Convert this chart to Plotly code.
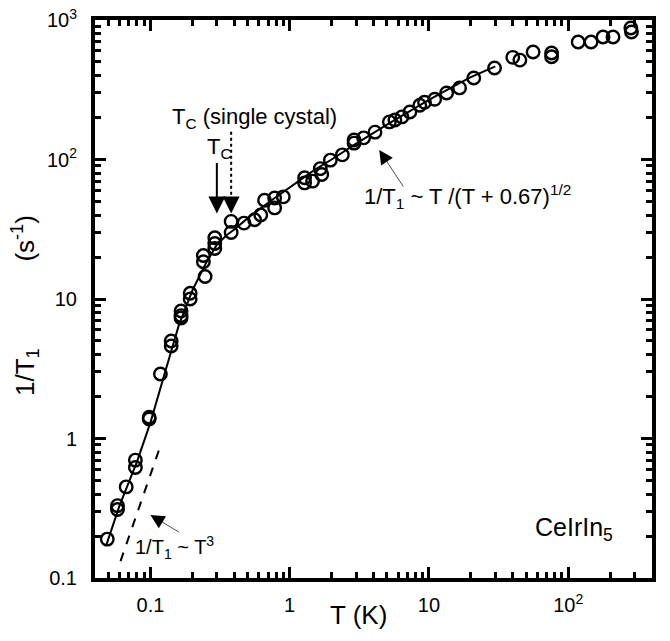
import plotly.graph_objects as go
import math

# measured 1/T1 data (T in K, 1/T1 in s^-1)
T_data = [0.049, 0.058, 0.058, 0.067, 0.078, 0.078, 0.098, 0.098, 0.118, 0.141, 0.141,
          0.166, 0.166, 0.166, 0.193, 0.193, 0.24, 0.24, 0.247, 0.29, 0.29, 0.29,
          0.38, 0.38, 0.47, 0.56, 0.62, 0.66, 0.78, 0.78, 0.9, 1.28, 1.28, 1.46,
          1.66, 1.7, 1.96, 2.39, 2.9, 2.9, 3.4, 4.1, 5.2, 5.7, 6.4, 7.3, 8.6, 9.3,
          11, 13.4, 16.6, 21, 29.6, 40, 45, 56, 76, 76, 118, 146, 178, 210, 282, 285]
R_data = [0.19, 0.31, 0.33, 0.45, 0.70, 0.62, 1.42, 1.38, 2.9, 5.0, 4.6,
          8.2, 7.6, 7.3, 11.0, 10.0, 20.5, 18.5, 14.5, 27.5, 25, 23,
          36, 30, 35, 37, 40, 51, 45, 53, 54, 74, 68, 70,
          86, 78, 99, 108, 131, 138, 143, 157, 186, 192, 202, 219, 245, 257,
          270, 300, 326, 384, 453, 540, 516, 590, 580, 545, 695, 695, 755, 755, 877, 821]

# fitted curve
T_fit = [0.048, 0.06, 0.08, 0.1, 0.13, 0.16, 0.2, 0.25, 0.3, 0.35, 0.4, 0.5, 0.7,
         1, 1.5, 2, 3, 5, 7, 10, 15, 20, 30]
R_fit = [0.17, 0.33, 0.68, 1.3, 3.2, 6.5, 11.5, 18, 24.5, 28.5, 31.5, 38, 49,
         63, 84, 100, 130, 178, 218, 268, 335, 390, 465]

# T^3 guide line
T_cube = [0.061, 0.12]
R_cube = [0.132, 0.93]

# single-crystal Tc dotted marker
T_sc = [0.38, 0.38]
R_sc = [158, 50]

x_tickvals = [0.1, 1, 10, 100]
x_ticktext = ["0.1", "1", "10", "10<sup>2</sup>"]
y_tickvals = [0.1, 1, 10, 100, 1000]
y_ticktext = ["0.1", "1", "10", "10<sup>2</sup>", "10<sup>3</sup>"]

X_MIN, X_MAX = 0.04, 400
minor_x = [k * 10 ** e for e in range(-2, 3) for k in range(2, 10)]
minor_x = [v for v in minor_x if X_MIN <= v <= X_MAX]
minor_y = [k * 10 ** e for e in range(-1, 3) for k in range(2, 10)]

FONT = "Liberation Sans, Arial, Helvetica, sans-serif"
L = math.log10

fig = go.Figure()
# fit line on the overlay axes (same ranges) so the minor-tick axes get drawn
fig.add_trace(go.Scatter(x=T_fit, y=R_fit, mode="lines", xaxis="x2", yaxis="y2",
                         line=dict(color="black", width=2), showlegend=False))
fig.add_trace(go.Scatter(x=T_cube, y=R_cube, mode="lines",
                         line=dict(color="black", width=2, dash="dash"), showlegend=False))
fig.add_trace(go.Scatter(x=T_sc, y=R_sc, mode="lines",
                         line=dict(color="black", width=2, dash="dot"), showlegend=False))
fig.add_trace(go.Scatter(x=T_data, y=R_data, mode="markers",
                         marker=dict(symbol="circle-open", size=12.5, color="black",
                                     line=dict(width=2.4, color="black")),
                         showlegend=False))

ann = []
# Tc solid arrow
ann.append(dict(x=L(0.3), y=L(41), xref="x", yref="y", text="", showarrow=True,
                ax=0, ay=-52, arrowhead=2, arrowsize=1.7, arrowwidth=2, arrowcolor="black"))
# dotted arrow head
ann.append(dict(x=L(0.38), y=L(41), xref="x", yref="y", text="", showarrow=True,
                ax=0, ay=-12, arrowhead=2, arrowsize=1.7, arrowwidth=2, arrowcolor="black"))
# formula arrow
ann.append(dict(x=L(4.4), y=L(117), xref="x", yref="y", text="", showarrow=True,
                ax=25, ay=38, arrowhead=2, arrowsize=4, arrowwidth=0.7, arrowcolor="black"))
# T^3 arrow
ann.append(dict(x=L(0.1), y=L(0.283), xref="x", yref="y", text="", showarrow=True,
                ax=30, ay=18, arrowhead=2, arrowsize=4, arrowwidth=0.7, arrowcolor="black"))

def paper(px, py):
    # page pixel -> paper fraction of the plot area (95..652, 20..578)
    return (px - 95) / 557, (578 - py) / 558

tx = [
    ("T<sub>C</sub> (single cystal)", 170, 118, "left", 22, 0),
    ("T<sub>C</sub>", 205, 148, "left", 22, 0),
    ("1/T<sub>1</sub> ~ T /(T + 0.67)<sup>1/2</sup>", 362, 196, "left", 22, 0),
    ("1/T<sub>1</sub> ~ T<sup>3</sup>", 133, 547, "left", 20, 0),
    ("CeIrIn<sub>5</sub>", 615, 529, "right", 25, 0),
    ("T (K)", 358, 615, "center", 26, 0),
    ("1/T<sub>1</sub>" + "\u00a0" * 12 + "(s<sup>-1</sup>)", 25, 306, "center", 26, -90),
]
for t, px, py, xa, fs, ang in tx:
    xp, yp = paper(px, py)
    ann.append(dict(x=xp, y=yp, xref="paper", yref="paper", text=t, showarrow=False,
                    textangle=ang, xanchor=xa, yanchor="middle",
                    font=dict(size=fs, color="black", family=FONT)))

major = dict(type="log", showgrid=False, zeroline=False, showline=True,
             linecolor="black", linewidth=4, mirror="ticks", ticks="inside",
             ticklen=11, tickwidth=3, tickcolor="black", automargin=False,
             ticklabeloverflow="allow",
             tickmode="array", tickfont=dict(size=20, color="black", family=FONT))
minor = dict(type="log", showgrid=False, zeroline=False, showline=False,
             mirror="ticks", ticks="inside", ticklen=6, tickwidth=3,
             tickcolor="black", automargin=False, tickmode="array",
             showticklabels=False)

fig.update_layout(
    width=670, height=641,
    margin=dict(l=95, r=18, t=20, b=63),
    plot_bgcolor="white", paper_bgcolor="white",
    font=dict(family=FONT, color="black"),
    xaxis=dict(range=[L(X_MIN), L(X_MAX)], tickvals=x_tickvals,
               ticktext=x_ticktext, ticklabelstandoff=6, **major),
    yaxis=dict(range=[-1, 3], tickvals=y_tickvals,
               ticktext=y_ticktext, ticklabelstandoff=10, **major),
    xaxis2=dict(range=[L(X_MIN), L(X_MAX)], tickvals=minor_x, overlaying="x",
                anchor="y2", side="bottom", **minor),
    yaxis2=dict(range=[-1, 3], tickvals=minor_y, overlaying="y",
                anchor="x2", side="left", **minor),
    annotations=ann,
)

fig.write_html("out.html", config={"displayModeBar": False, "staticPlot": True},
               post_script="document.body.style.margin='0px';document.body.style.overflow='hidden';")
